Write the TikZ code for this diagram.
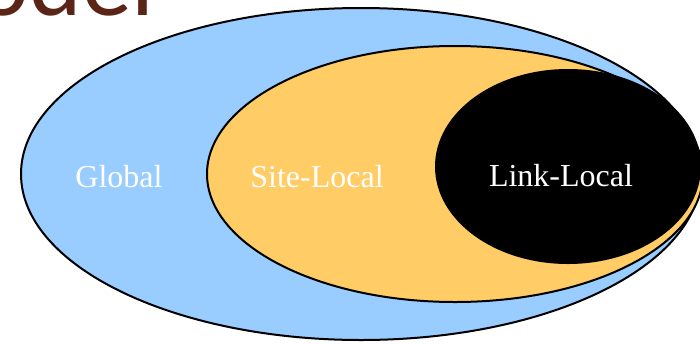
\documentclass[tikz,border=0pt]{standalone}
\usepackage{fontspec}
\setmainfont{Liberation Serif}
\newfontfamily\titlefont{Carlito}
\usetikzlibrary{shapes.geometric}
\definecolor{globalblue}{HTML}{99CCFF}
\definecolor{siteyellow}{HTML}{FFCC66}
\definecolor{titlebrown}{HTML}{5A2417}
\tikzset{
  region/.style={ellipse, draw=black, line width=2pt, inner sep=0pt},
  lbl/.style={text=white, font=\fontsize{32}{36}\selectfont, anchor=base, inner sep=0pt},
  ttl/.style={font=\titlefont\fontsize{100}{110}\selectfont, anchor=base east, inner sep=0pt}
}
\begin{document}
\begin{tikzpicture}[x=1pt,y=-1pt]
\useasboundingbox (0,0) rectangle (700,343);
\clip (0,0) rectangle (700,343);
\node[ttl, text=titlebrown] (title) at (155,15) {Model};
\node[region, fill=globalblue, minimum width=680pt, minimum height=332pt] (global) at (361,174) {};
\node[region, fill=siteyellow, minimum width=496pt, minimum height=256pt] (site) at (455,174) {};
\node[region, fill=black, minimum width=264pt, minimum height=193pt] (link) at (568,166.5) {};
\node[lbl] (globaltxt) at (119,187) {Global};
\node[lbl] (sitetxt) at (317,187) {Site-Local};
\node[lbl] (linktxt) at (561,186) {Link-Local};
\end{tikzpicture}
\end{document}
